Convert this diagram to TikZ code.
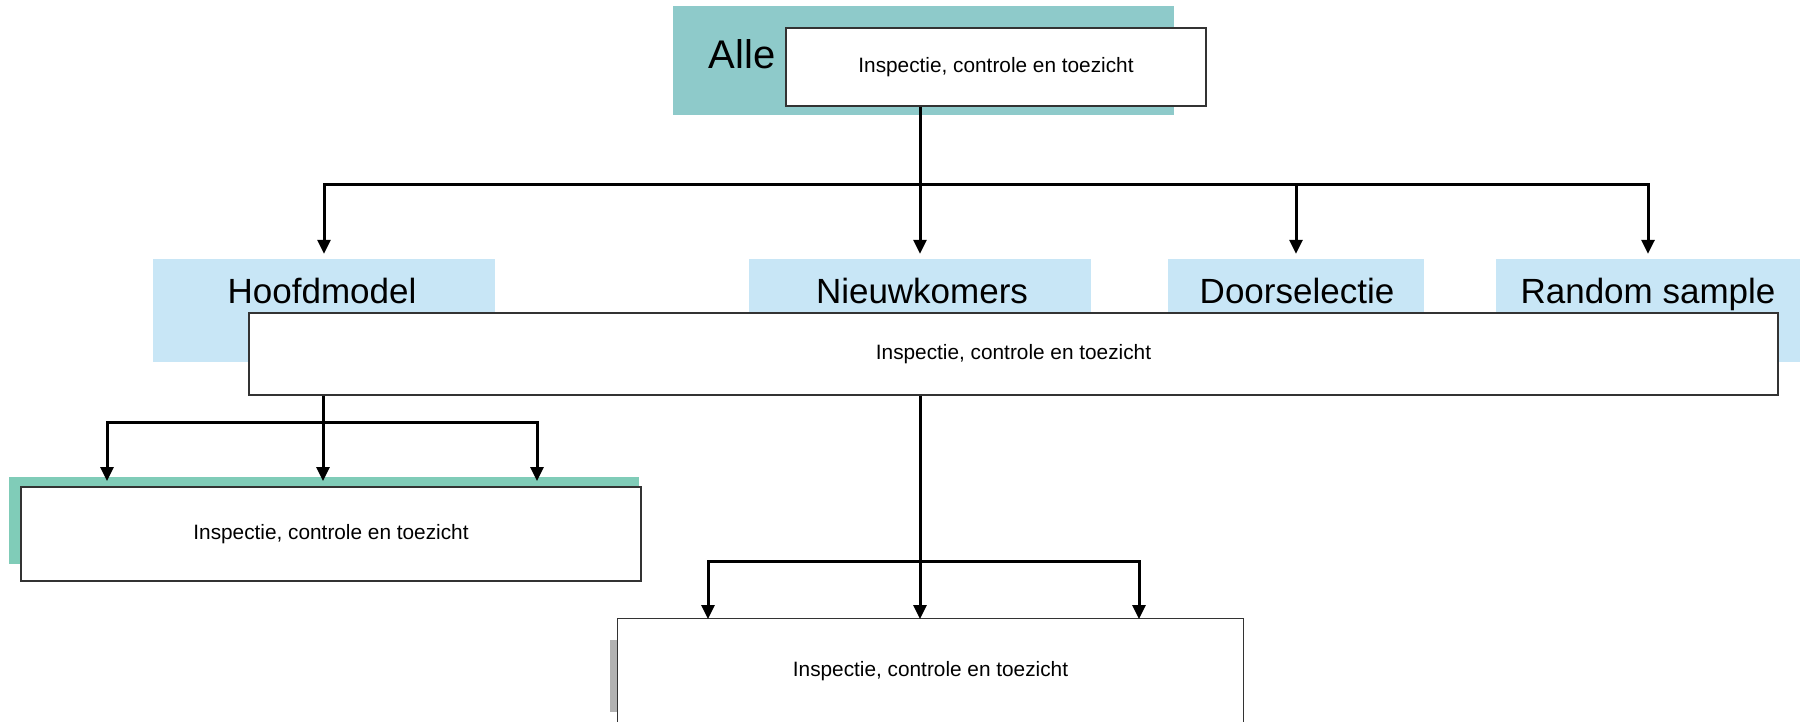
\documentclass[tikz,border=0pt]{standalone}
\usepackage{fontspec}
\setmainfont{Liberation Sans}
\usetikzlibrary{arrows.meta}
\definecolor{tealA}{RGB}{142,202,202}
\definecolor{tealB}{RGB}{128,204,184}
\definecolor{lblue}{RGB}{200,230,246}
\begin{document}
\begin{tikzpicture}[x=1pt,y=-1pt,
  wbox/.style={draw=black!80, line width=1.3pt, fill=white, inner sep=0pt},
  border/.style={draw=black!80, line width=1.3pt},
  bgbox/.style={inner sep=0pt, draw=none},
  big/.style={font=\fontsize{35}{40}\selectfont, inner sep=0pt, anchor=base},
  small/.style={font=\fontsize{20.8}{24}\selectfont},
  conn/.style={line width=3pt, black},
  arr/.style={conn, -{Triangle[width=13pt,length=14pt]}}]
\useasboundingbox (0,0) rectangle (1804,721);
\fill[white] (0,0) rectangle (1804,721);

% top level
\node[bgbox, fill=tealA, minimum width=501pt, minimum height=109pt] (tealtop) at (923.5,60.5) {};
\node[big, font=\fontsize{40}{46}\selectfont] (alle) at (742,68) {Alle};
\node[wbox, small, minimum width=420pt, minimum height=78pt] (top) at (996,67) {Inspectie, controle en toezicht};

% second level labels
\node[bgbox, fill=lblue, minimum width=342pt, minimum height=103pt] (hoofbg) at (324,310.5) {};
\node[bgbox, fill=lblue, minimum width=342pt, minimum height=54pt] (nieuwbg) at (920,286) {};
\node[bgbox, fill=lblue, minimum width=256pt, minimum height=54pt] (doorbg) at (1296,286) {};
\node[bgbox, fill=lblue, minimum width=304pt, minimum height=103pt] (randbg) at (1648,310.5) {};
\node[big] (hooftxt) at (322,303) {Hoofdmodel};
\node[big] (nieuwtxt) at (922,303) {Nieuwkomers};
\node[big] (doortxt) at (1297,303) {Doorselectie};
\node[big] (randtxt) at (1648,303) {Random sample};

\node[wbox, small, minimum width=1529pt, minimum height=82pt] (mid) at (1013.5,354) {Inspectie, controle en toezicht};

% third level
\node[bgbox, fill=tealB, minimum width=630pt, minimum height=87pt] (bltealbg) at (324,520.5) {};
\node[wbox, small, minimum width=620pt, minimum height=94pt] (bl) at (331,534) {Inspectie, controle en toezicht};

\fill[black!30] (610,640) rectangle (618,712);
\node[wbox, draw=none, small, minimum width=625pt, minimum height=104pt] (bot) at (930.5,671) {Inspectie, controle en toezicht};
\draw[border] (bot.south west) -- (bot.north west) -- (bot.north east) -- (bot.south east);

% bus coordinates
\coordinate (bus1) at (0,184);
\coordinate (bus2) at (0,422);
\coordinate (bus3) at (0,561);
\coordinate (a1) at (107,481);
\coordinate (a2) at (323,481);
\coordinate (a3) at (537,481);
\coordinate (b1) at (708,619);
\coordinate (b2) at (920,619);
\coordinate (b3) at (1139,619);

% connectors level 1
\draw[conn] (nieuwbg.north |- top.south) -- (nieuwbg.north |- bus1);
\draw[conn, line cap=rect] (hoofbg.north |- bus1) -- (randbg.north |- bus1);
\foreach \n in {hoofbg,nieuwbg,doorbg,randbg}
  \draw[arr, shorten >=5pt] (\n.north |- bus1) -- (\n.north);

% connectors level 2 left
\draw[conn] (a2 |- mid.south) -- (a2 |- bus2);
\draw[conn, line cap=rect] (a1 |- bus2) -- (a3 |- bus2);
\foreach \c in {a1,a2,a3}
  \draw[arr] (\c |- bus2) -- (\c);

% connectors level 2 centre
\draw[conn] (b2 |- mid.south) -- (b2 |- bus3);
\draw[conn, line cap=rect] (b1 |- bus3) -- (b3 |- bus3);
\foreach \c in {b1,b2,b3}
  \draw[arr] (\c |- bus3) -- (\c);
\end{tikzpicture}
\end{document}
